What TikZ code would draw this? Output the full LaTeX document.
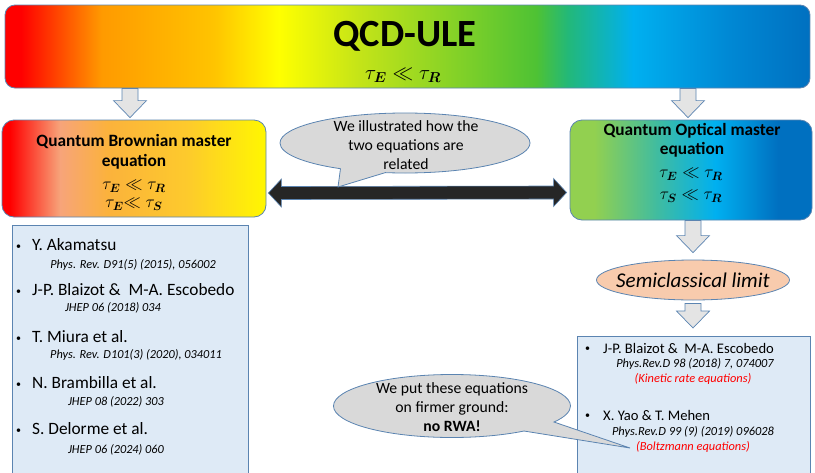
\documentclass[tikz,border=0pt]{standalone}
\usepackage{fontspec}
\usepackage{amsmath}
\setmainfont{Carlito}
\usetikzlibrary{shapes.geometric,shapes.callouts,calc}

\definecolor{edge}{HTML}{5B84B1}
\definecolor{arrowfill}{HTML}{E4E4E4}
\definecolor{relfill}{HTML}{262626}
\definecolor{bubblefill}{HTML}{D9D9D9}
\definecolor{listfill}{HTML}{DEEAF6}
\definecolor{semifill}{HTML}{F8CBAD}
\definecolor{kinred}{HTML}{FF0000}
\definecolor{rbred}{HTML}{FF0000}
\definecolor{rborange}{HTML}{FF9A00}
\definecolor{rbgold}{HTML}{FFC400}
\definecolor{rbyellow}{HTML}{FFFF00}
\definecolor{rblime}{HTML}{C4E418}
\definecolor{rbgreen}{HTML}{4EC234}
\definecolor{rbteal}{HTML}{22B87A}
\definecolor{rbcyan}{HTML}{00B0F0}
\definecolor{rbmid}{HTML}{0088D4}
\definecolor{rbblue}{HTML}{0070C0}
\definecolor{qbsalmon}{HTML}{F7A47A}
\definecolor{qborange}{HTML}{FBB23C}
\definecolor{qbgold}{HTML}{FDCA2C}
\definecolor{qbyellow}{HTML}{FFF700}
\definecolor{qogreen}{HTML}{92D050}
\definecolor{qoteal}{HTML}{40BCA0}

\pgfdeclarehorizontalshading{rainbow}{100bp}{%
  color(0bp)=(rbred); color(25bp)=(rbred); color(26bp)=(rbred);
  color(31bp)=(rborange); color(38bp)=(rbgold); color(42bp)=(rbyellow);
  color(47bp)=(rblime); color(58bp)=(rbgreen); color(60bp)=(rbteal);
  color(64bp)=(rbcyan); color(70bp)=(rbmid); color(75bp)=(rbblue);
  color(100bp)=(rbblue)}
\pgfdeclarehorizontalshading{brownian}{100bp}{%
  color(0bp)=(rbred); color(25bp)=(rbred); color(26.5bp)=(rbred);
  color(36bp)=(qbsalmon); color(45bp)=(qborange); color(60bp)=(qbgold);
  color(75bp)=(qbyellow); color(100bp)=(qbyellow)}
\pgfdeclarehorizontalshading{optical}{100bp}{%
  color(0bp)=(qogreen); color(25bp)=(qogreen); color(30bp)=(qogreen);
  color(43bp)=(qoteal); color(55bp)=(rbcyan); color(68bp)=(rbblue);
  color(75bp)=(rbblue); color(100bp)=(rbblue)}

\newcommand\itemdot{\makebox[0pt][l]{\raisebox{1.8pt}{\fontsize{10}{10}\selectfont\textbullet}}}

\tikzset{
  downarrow/.style={draw=edge, fill=arrowfill, line width=0.7pt,
    to path={let \p1=(\tikztostart), \p2=(\tikztotarget) in
      (\x1-8pt,\y1) -- (\x1-8pt,\y2+17pt) -- (\x1-16.5pt,\y2+17pt) -- (\x1,\y2)
      -- (\x1+16.5pt,\y2+17pt) -- (\x1+8pt,\y2+17pt) -- (\x1+8pt,\y1) -- cycle}},
  bothway/.style={draw=edge, fill=relfill, line width=0.6pt,
    to path={let \p1=(\tikztostart), \p2=(\tikztotarget) in
      (\x1,\y1) -- (\x1+13pt,\y1+14pt) -- (\x1+13pt,\y1+6.5pt) -- (\x2-13pt,\y2+6.5pt)
      -- (\x2-13pt,\y2+14pt) -- (\x2,\y2) -- (\x2-13pt,\y2-14pt) -- (\x2-13pt,\y2-6.5pt)
      -- (\x1+13pt,\y1-6.5pt) -- (\x1+13pt,\y1-14pt) -- cycle}}
}

\begin{document}
\begin{tikzpicture}[x=1pt,y=-1pt,
    banner/.style={draw=edge, line width=0.8pt, rounded corners=10pt, shade, shading=rainbow,
      minimum width=805, minimum height=83},
    eqbox/.style={draw=edge, line width=0.8pt, rounded corners=12pt, shade},
    eqtitle/.style={align=center, inner sep=0, font=\fontsize{17.3}{19.5}\selectfont\bfseries},
    eqmath/.style={align=center, inner sep=0, font=\fontsize{18}{18}\selectfont},
    listbox/.style={draw=edge, fill=listfill, line width=0.8pt, anchor=north west},
    author/.style={anchor=west, inner sep=0, font=\fontsize{17.3}{17.3}\selectfont},
    paper/.style={inner sep=0, font=\fontsize{12.3}{12.3}\selectfont\itshape},
    authorR/.style={author, font=\fontsize{14.6}{14.6}\selectfont},
    paperR/.style={paper, font=\fontsize{12.4}{12.4}\selectfont\itshape},
    note/.style={paperR, text=kinred},
    bubble/.style={ellipse callout, draw=edge, fill=bubblefill, line width=0.8pt,
      callout pointer arc=22},
    bubbletext/.style={align=center, inner sep=0, font=\fontsize{15.7}{19}\selectfont}]
\clip (0,0) rectangle (815,472);

\node[banner] (qcd) at (407.5,46.5) {};
\node[inner sep=0, font=\fontsize{38.5}{38.5}\selectfont\bfseries] (qcdtitle) at (405,36.5) {QCD-ULE};
\node[eqmath, font=\fontsize{20}{20}\selectfont] (qcdmath) at (403,75) {$\tau_{\boldsymbol{E}} \ll \tau_{\boldsymbol{R}}$};

\node[eqbox, shading=brownian, minimum width=264, minimum height=97] (qbm) at (134,168.5) {};
\node[eqtitle] (qbmtitle) at (134,152) {Quantum Brownian master\\equation};
\node[eqmath] (qbmmath) at (134,195.5)
  {$\tau_{\boldsymbol{E}} \ll \tau_{\boldsymbol{R}}$\\$\tau_{\boldsymbol{E}}{\ll}\;\tau_{\boldsymbol{S}}$};

\node[eqbox, shading=optical, minimum width=242, minimum height=100] (qom) at (691,170) {};
\node[eqtitle] (qomtitle) at (692,140.5) {Quantum Optical master\\equation};
\node[eqmath] (qommath) at (691,185.5)
  {$\tau_{\boldsymbol{E}} \ll \tau_{\boldsymbol{R}}$\\[4pt]$\tau_{\boldsymbol{S}} \ll \tau_{\boldsymbol{R}}$};

\draw[downarrow] ($(qcd.south -| qbm.north)+(-4,0)$) to ($(qbm.north)+(0,-2)$);
\draw[downarrow] ($(qcd.south -| qom.north)+(-3,0)$) to ($(qom.north)+(0,-2)$);

\coordinate (relL) at ($(qbm.east)+(2,24.5)$);
\coordinate (relR) at ($(qom.west)+(-3,22.5)$);
\draw[bothway] (relL) to (relR);

\coordinate (tip1) at (338,187);
\node[bubble, minimum width=250, minimum height=60, callout absolute pointer=(tip1)] (ill) at (405,143) {};
\node[bubbletext] (illtext) at (406,145) {We illustrated how the\\two equations are\\related};

\node[ellipse, draw=edge, fill=semifill, line width=0.8pt, minimum width=193, minimum height=40,
  inner sep=0, font=\fontsize{21}{22}\selectfont\itshape] (semi) at (693,280)
  {\makebox[90pt]{Semiclassical limit}};
\draw[downarrow] (qom.south -| semi.north) to ($(semi.north)+(0,-7)$);

\node[listbox, minimum width=236, minimum height=260] (refL) at (12,225) {};
\foreach \who/\where/\y/\rx/\ry in {
    Y. Akamatsu/{Phys. Rev. D91(5) (2015), 056002}/245/133/265,
    J-P. Blaizot \&~ M-A. Escobedo/{JHEP 06 (2018) 034}/290/113/308,
    T. Miura et al./{Phys. Rev. D101(3) (2020), 034011}/337/136/355,
    N. Brambilla et al./{JHEP 08 (2022) 303}/383/116/402,
    S. Delorme et al./{JHEP 06 (2024) 060}/429/116/450}
  {
  \node[author] (who\y) at (16,\y) {\makebox[16pt][l]{\itemdot}\who};
  \node[paper] (paper\y) at (\rx,\ry) {\where};
  }

\node[listbox, minimum width=233, minimum height=150] (refR) at (577,336) {};
\draw[downarrow] ($(semi.south)+(0,3)$) to ($(refR.north -| semi.south)+(0,-8)$);
\node[authorR] (blaizot) at (585,348) {\makebox[18pt][l]{\itemdot}J-P. Blaizot \&~ M-A. Escobedo};
\node[paperR] (blaizotpaper) at (695,364) {Phys.Rev.D 98 (2018) 7, 074007};
\node[note] (kinetic) at (693,379) {(Kinetic rate equations)};
\node[authorR] (yao) at (585,415) {\makebox[18pt][l]{\itemdot}X. Yao \& T. Mehen};
\node[paperR] (yaopaper) at (693,432) {Phys.Rev.D 99 (9) (2019) 096028};
\node[note] (boltzmann) at (693,447) {(Boltzmann equations)};

\coordinate (tip2) at (630,448);
\node[bubble, minimum width=237, minimum height=63, callout absolute pointer=(tip2)] (rwa) at (452,406) {};
\node[bubbletext] (rwatext) at (452,407) {We put these equations\\on firmer ground:\\\textbf{no RWA!}};
\end{tikzpicture}
\end{document}
